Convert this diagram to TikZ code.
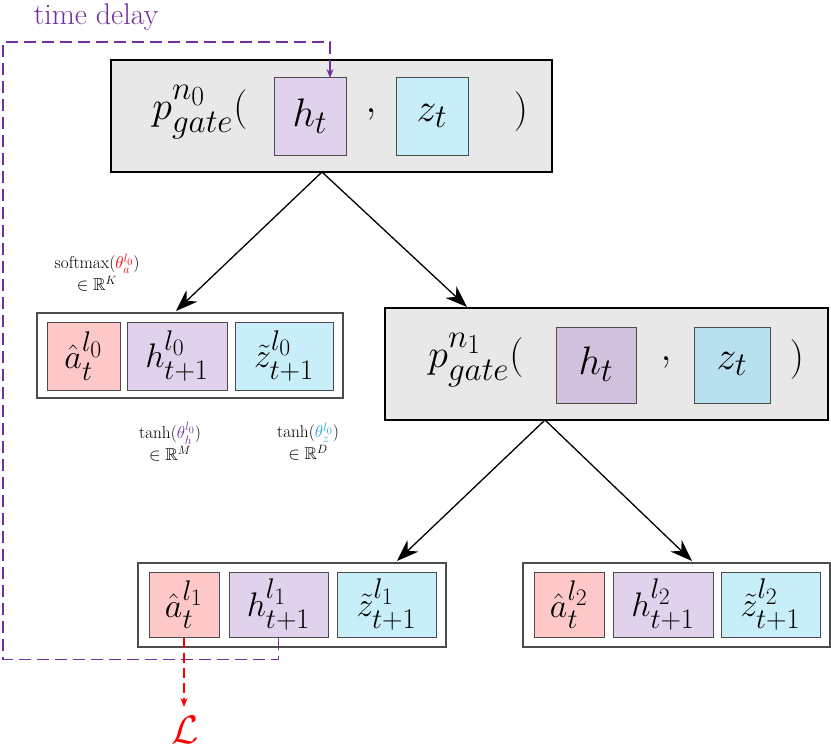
\documentclass[tikz,border=0pt]{standalone}
\usepackage{amssymb}
\usetikzlibrary{arrows.meta}
\definecolor{pk}{HTML}{FFC8C8}
\definecolor{pu}{HTML}{E0D2EC}
\definecolor{bl}{HTML}{C8EEFA}
\definecolor{pud}{HTML}{D2C2DE}
\definecolor{bld}{HTML}{B8E0EE}
\definecolor{gb}{HTML}{E8E8E8}
\definecolor{vi}{HTML}{7030A0}
\definecolor{cy}{HTML}{20A8E0}
\newcommand{\bg}[1]{\scalebox{1.6}{\Huge$#1$}}
\newcommand{\md}[1]{\scalebox{1.37}{\Huge$#1$}}
\begin{document}
\begin{tikzpicture}[x=1pt,y=-1pt,
  lab/.style={font=\LARGE,align=center},
  gate/.style={draw,line width=1.4pt,fill=gb,inner sep=0,anchor=center},
  outer/.style={draw=black!70,line width=1.2pt,fill=white,inner sep=0},
  cell/.style={draw=black!70,line width=1pt,inner sep=0},
  arr/.style={line width=1.3pt,-{Stealth[length=22pt,width=16pt]}},
  vd/.style={vi,line width=1.3pt,dash pattern=on 12pt off 6pt}]
\useasboundingbox (0,0) rectangle (831,752);
% gate n0
\node[gate,minimum width=441pt,minimum height=112pt] (g0) at (331.5,116) {};
\node[cell,fill=pu,minimum width=72pt,minimum height=77pt] (g0h) at (310,116.5) {};
\node[cell,fill=bl,minimum width=72pt,minimum height=77pt] (g0z) at (432,116.5) {};
\node (t0) at (200,112) {\bg{p^{n_0}_{gate}(}};
\node at (310,116) {\bg{h_t}};
\node at (371,114) {\bg{,}};
\node at (432,116) {\bg{z_t}};
\node at (521,112) {\bg{)}};
% gate n1
\node[gate,minimum width=443pt,minimum height=112pt] (g1) at (606.5,364) {};
\node[cell,fill=pud,minimum width=80pt,minimum height=76pt] (g1h) at (596,365) {};
\node[cell,fill=bld,minimum width=76pt,minimum height=76pt] (g1z) at (732,365) {};
\node at (476,360) {\bg{p^{n_1}_{gate}(}};
\node at (596,364) {\bg{h_t}};
\node at (666,362) {\bg{,}};
\node at (732,364) {\bg{z_t}};
\node at (797,360) {\bg{)}};
% leaf l0
\node[outer,minimum width=306pt,minimum height=85pt] (l0) at (190,355.5) {};
\node[cell,fill=pk,minimum width=73pt,minimum height=68pt] (l0a) at (83.5,356) {};
\node[cell,fill=pu,minimum width=100pt,minimum height=68pt] (l0h) at (177,356) {};
\node[cell,fill=bl,minimum width=98pt,minimum height=68pt] (l0z) at (284,356) {};
\node at (l0a) {\md{\hat a^{l_0}_t}};
\node at (l0h) {\md{h^{l_0}_{t+1}}};
\node at (l0z) {\md{\tilde z^{l_0}_{t+1}}};
% leaf l1
\node[outer,minimum width=308pt,minimum height=84pt] (l1) at (292,605) {};
\node[cell,fill=pk,minimum width=70pt,minimum height=65pt] (l1a) at (184,604.5) {};
\node[cell,fill=pu,minimum width=99pt,minimum height=65pt] (l1h) at (278.5,604.5) {};
\node[cell,fill=bl,minimum width=99pt,minimum height=65pt] (l1z) at (386.5,604.5) {};
\node at (l1a) {\md{\hat a^{l_1}_t}};
\node at (l1h) {\md{h^{l_1}_{t+1}}};
\node at (l1z) {\md{\tilde z^{l_1}_{t+1}}};
% leaf l2
\node[outer,minimum width=307pt,minimum height=84pt] (l2) at (676.5,605) {};
\node[cell,fill=pk,minimum width=70pt,minimum height=65pt] (l2a) at (569,604.5) {};
\node[cell,fill=pu,minimum width=100pt,minimum height=65pt] (l2h) at (663,604.5) {};
\node[cell,fill=bl,minimum width=99pt,minimum height=65pt] (l2z) at (770.5,604.5) {};
\node at (l2a) {\md{\hat a^{l_2}_t}};
\node at (l2h) {\md{h^{l_2}_{t+1}}};
\node at (l2z) {\md{\tilde z^{l_2}_{t+1}}};
% labels
\node[lab] (sm) at (97,273) {softmax$(\textcolor{red}{\theta_a^{l_0}})$\\$\in\mathbb{R}^K$};
\node[lab] (th) at (170,442) {$\tanh(\textcolor{vi}{\theta_h^{l_0}})$\\$\in\mathbb{R}^M$};
\node[lab] (tz) at (308,442) {$\tanh(\textcolor{cy}{\theta_z^{l_0}})$\\$\in\mathbb{R}^D$};
\node[text=vi] (td) at (96,17) {\scalebox{1.2}{\Huge time delay}};
\node[text=red] (L) at (185,730) {\bg{\mathcal{L}}};
% arrows
\coordinate (c0) at (322,172);
\coordinate (c1) at (545,420);
\draw[arr] (c0) -- (176,311);
\draw[arr] (c0) -- (467,307);
\draw[arr] (c1) -- (397,561);
\draw[arr] (c1) -- (692,561);
\draw[vd,-{Stealth[length=9pt,width=7pt]}] (l1h.south) -- ++(0,22) -| (3,42) -| (330,78);
\draw[red,line width=1.3pt,dash pattern=on 10pt off 5pt,-{Stealth[length=9pt,width=7pt]}] (l1a.south) -- (184,707);
\end{tikzpicture}
\end{document}
